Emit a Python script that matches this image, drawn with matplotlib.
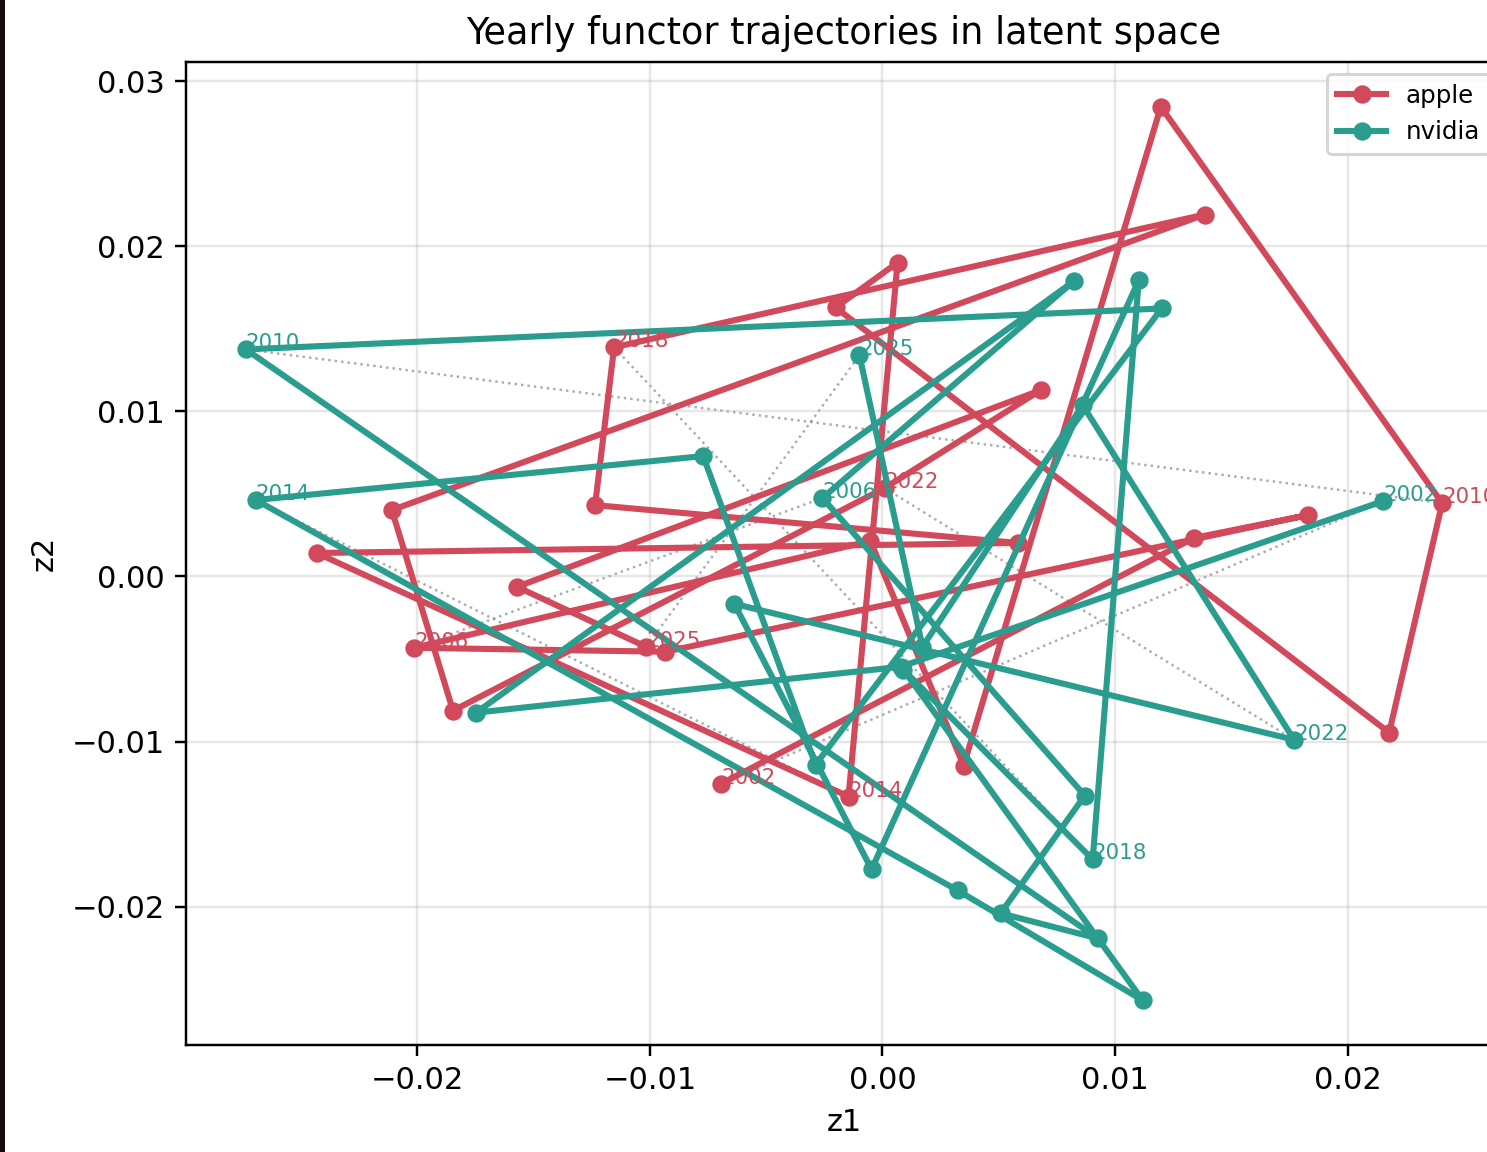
import numpy as np
import matplotlib
matplotlib.use("Agg")
import matplotlib.pyplot as plt
from matplotlib.patches import Rectangle

years = list(range(2002, 2026))

# latent coordinates per year (z1, z2)
apple_z1 = [-0.00693, 0.01339, 0.01830, -0.00934, -0.02015, -0.00052, 0.00349, 0.01197,
            0.02407, 0.02179, -0.00202, 0.00065, -0.00146, -0.02433, 0.00581, -0.01236,
            -0.01154, 0.01386, -0.02110, -0.01847, 0.00009, 0.00680, -0.01572, -0.01016]
apple_z2 = [-0.01255, 0.00233, 0.00372, -0.00456, -0.00432, 0.00215, -0.01146, 0.02845,
            0.00444, -0.00946, 0.01629, 0.01901, -0.01333, 0.00142, 0.00203, 0.00432,
            0.01388, 0.02192, 0.00402, -0.00813, 0.00535, 0.01128, -0.00063, -0.00426]

nvidia_z1 = [0.02153, 0.00078, -0.01748, 0.00822, -0.00258, 0.00870, 0.00508, 0.00926,
             -0.02738, 0.01201, -0.00288, -0.00771, -0.02695, 0.00323, 0.01119, 0.00090,
             0.00904, 0.01102, -0.00047, -0.00637, 0.01770, 0.00861, 0.00172, -0.00099]
nvidia_z2 = [0.00456, -0.00547, -0.00825, 0.01787, 0.00475, -0.01327, -0.02040, -0.02192,
             0.01375, 0.01623, -0.01140, 0.00729, 0.00463, -0.01901, -0.02567, -0.00565,
             -0.01714, 0.01793, -0.01774, -0.00166, -0.00989, 0.01037, -0.00426, 0.01339]

label_years = [2002, 2006, 2010, 2014, 2018, 2022, 2025]

companies = ["apple", "nvidia"]
colors = {"apple": "#d1495b", "nvidia": "#2a9d8f"}
traj = {"apple": (apple_z1, apple_z2), "nvidia": (nvidia_z1, nvidia_z2)}

DPI = 220
fig = plt.figure(figsize=(1487 / DPI, 1152 / DPI), dpi=DPI)
ax = fig.add_axes([186 / 1487, 107 / 1152, 1316 / 1487, 983 / 1152])

# dotted links between the two companies for the same year
for yr in label_years:
    i = years.index(yr)
    ax.plot([apple_z1[i], nvidia_z1[i]], [apple_z2[i], nvidia_z2[i]],
            ls=":", lw=0.8, color="gray", alpha=0.65, zorder=1)

for name in companies:
    z1, z2 = traj[name]
    ax.plot(z1, z2, "-o", color=colors[name], lw=2, ms=5, label=name, zorder=2)
    for yr in label_years:
        i = years.index(yr)
        ax.text(z1[i], z2[i], str(yr), fontsize=7, color=colors[name], zorder=3)

ax.set_title("Yearly functor trajectories in latent space", fontsize=12)
ax.set_xlabel("z1")
ax.set_ylabel("z2")
ax.grid(True, alpha=0.3)
ax.legend(loc="upper right", fontsize=8)

# dark border strip on the left edge
fig.patches.append(Rectangle((0, 0), 5 / 1487, 1, transform=fig.transFigure,
                             facecolor="#140c0c", edgecolor="none", zorder=10))

fig.savefig("out.png", dpi=DPI)
